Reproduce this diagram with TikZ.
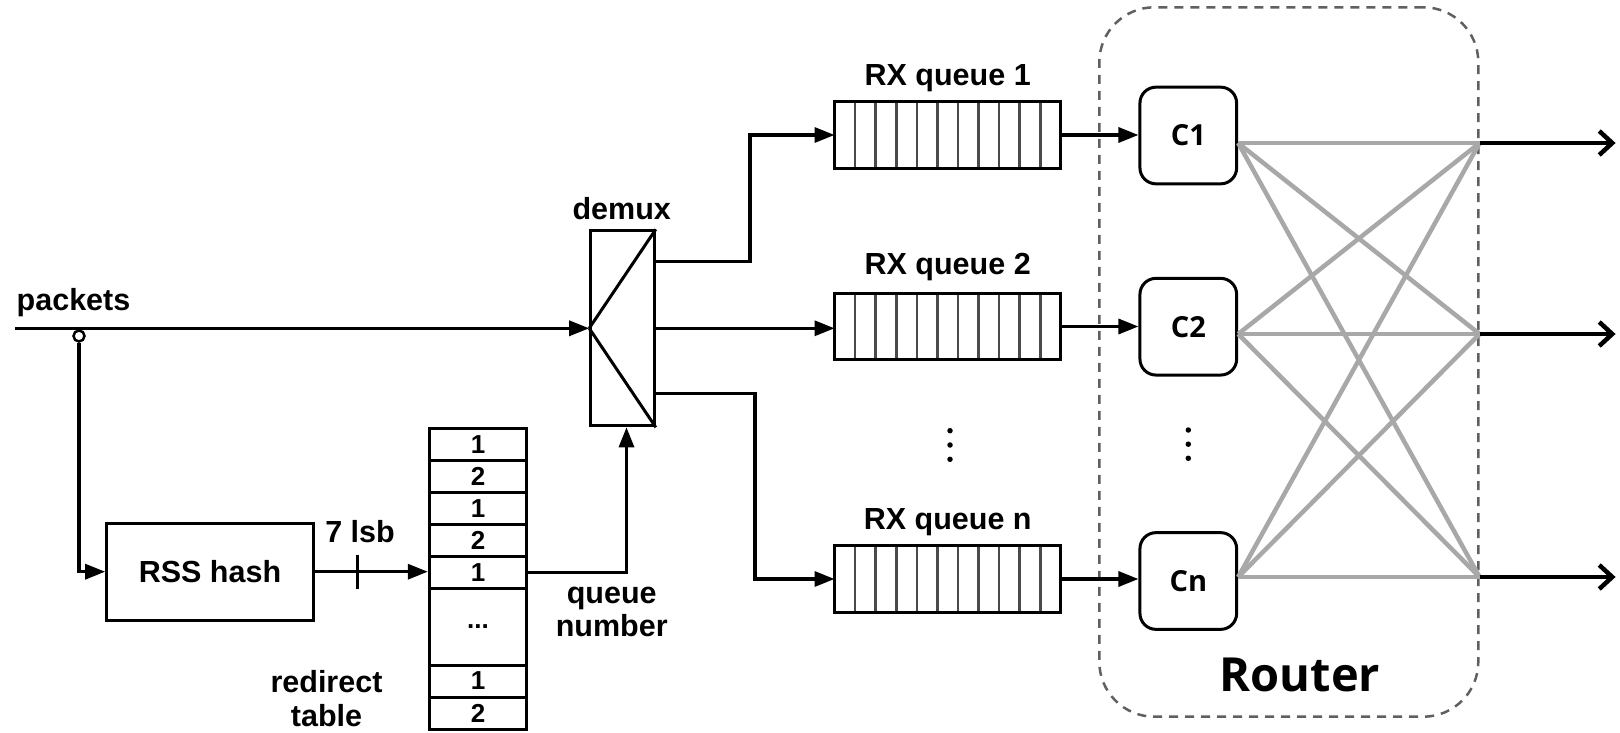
\documentclass[tikz,border=0pt]{standalone}
\usepackage{fontspec}
\setmainfont{Liberation Sans}
\newfontfamily\notofont{Open Sans}
\usetikzlibrary{arrows.meta,calc}
\definecolor{meshgray}{HTML}{A8A8A8}
\definecolor{dashgray}{HTML}{606060}
\definecolor{divgray}{HTML}{4A4A4A}
\begin{document}
\begin{tikzpicture}[x=1pt,y=-1pt,
  lbl/.style={font=\fontsize{30.5}{36}\selectfont\bfseries, inner sep=0pt},
  box/.style={draw, line width=3pt, inner sep=0pt},
  conn/.style={line width=3.2pt, -{Triangle[length=20pt,width=15pt]}},
  plain/.style={line width=3pt},
  cell/.style={draw, line width=3pt, minimum width=97.4pt, minimum height=32pt, inner sep=0pt, font=\fontsize{26}{28}\selectfont\bfseries},
  queuebox/.style={line width=3pt, minimum width=223.3pt, minimum height=63.3pt, inner sep=0pt},
  core/.style={draw, line width=3pt, rounded corners=16pt, minimum width=96.7pt, minimum height=96.7pt, inner sep=0pt, font=\notofont\fontsize{29}{32}\selectfont\bfseries},
  mesh/.style={line width=4.5pt, draw=meshgray},
  outarrow/.style={line width=4.5pt, -{Straight Barb[length=13pt,width=24pt]}},
  dotmark/.style={circle, fill, inner sep=0pt, minimum size=5.5pt},
  divider/.style={line width=2.5pt, draw=divgray}
]
\useasboundingbox (0,0) rectangle (1620,733);

% router dashed frame
\node[draw=dashgray, line width=2.5pt, dash pattern=on 9pt off 7pt, rounded corners=55pt,
      minimum width=379pt, minimum height=709.4pt, inner sep=0pt] (router) at (1288.8,362) {};
\node[font=\notofont\fontsize{47}{50}\selectfont\bfseries, anchor=base, inner sep=0pt] (routerlbl) at (1300,691) {Router};

% demux
\node[box, minimum width=63.6pt, minimum height=195pt] (demux) at (622.5,328.3) {};
\draw[plain] (demux.west) -- (demux.north east);
\draw[plain] (demux.west) -- (demux.south east);
\node[lbl, anchor=base] (demuxlbl) at (621.7,219.3) {demux};

% packets input
\node[lbl, anchor=base] (packetslbl) at (73.5,310.5) {packets};
\coordinate (pin) at (15,328.3);
\draw[conn] (pin) -- (demux.west);
\node[circle, draw, line width=2.5pt, fill=white, minimum size=11pt, inner sep=0pt] (tap) at (79,336) {};

% RSS hash
\node[box, lbl, minimum width=206.6pt, minimum height=96.7pt] (rss) at (210,571.7) {RSS hash};
\draw[conn] (tap.south) |- (rss.west);

% redirect table
\node[cell] (t1) at (478,444.3) {1};
\node[cell] (t2) at (478,476.3) {2};
\node[cell] (t3) at (478,508.3) {1};
\node[cell] (t4) at (478,540.3) {2};
\node[cell] (t5) at (478,572.3) {1};
\node[cell, minimum height=76.7pt] (t6) at (478,626.7) {...};
\node[cell] (t7) at (478,681) {1};
\node[cell] (t8) at (478,713) {2};
\node[lbl, anchor=base] (redir1) at (326.5,692) {redirect};
\node[lbl, anchor=base] (redir2) at (326.5,726) {table};

\draw[conn] (rss.east) -- node[pos=0.374, inner sep=0pt] (tk) {} (rss.east -| t5.west);
\draw[plain] ([yshift=17pt]tk.center) -- ([yshift=-17pt]tk.center);
\node[lbl, anchor=base] (lsb) at (360,542.7) {7 lsb};

\draw[conn] (t5.east) -| ([xshift=4pt]demux.south);
\node[lbl, anchor=base] (qn1) at (611.7,603) {queue};
\node[lbl, anchor=base] (qn2) at (611.7,636) {number};

% RX queues
\node[queuebox] (q1) at (947.7,135) {};
\node[queuebox] (q2) at (947.7,326.5) {};
\node[queuebox] (qn) at (947.7,579) {};
\foreach \q in {q1,q2,qn}{
  \foreach \i in {1,...,10}{
    \draw[divider] ($(\q.north west)!\i/11!(\q.north east)$) -- ($(\q.south west)!\i/11!(\q.south east)$);
  }
  \draw[line width=3pt] (\q.north west) rectangle (\q.south east);
}
\node[lbl, anchor=base] (q1lbl) at (947.7,86) {RX queue 1};
\node[lbl, anchor=base] (q2lbl) at (947.7,274.3) {RX queue 2};
\node[lbl, anchor=base] (qnlbl) at (947.7,529.3) {RX queue n};

\draw[conn] ([yshift=66.6pt]demux.east) -- ++(94.2,0) |- (q1.west);
\draw[conn] (demux.east) -- (demux.east -| q2.west);
\draw[conn] ([yshift=-65pt]demux.east) -- ++(99.2,0) |- (qn.west);

% cores
\node[core] (c1) at (1188.3,135.5) {C1};
\node[core] (c2) at (1188.3,326.7) {C2};
\node[core] (cn) at (1188.3,581) {Cn};
\draw[conn] (q1.east) -- (q1.east -| c1.west);
\draw[conn] (q2.east) -- (q2.east -| c2.west);
\draw[conn] (qn.east) -- (qn.east -| cn.west);

% dots
\node[dotmark] (d1) at (950,430.7) {};
\node[dotmark] (d2) at (950,445) {};
\node[dotmark] (d3) at (950,459.3) {};
\node[dotmark] (e1) at (1188.3,430) {};
\node[dotmark] (e2) at (1188.3,444.2) {};
\node[dotmark] (e3) at (1188.3,458.3) {};

% mesh
\coordinate (l1) at ([yshift=-7.5pt]c1.east);
\coordinate (l2) at ([yshift=-7.3pt]c2.east);
\coordinate (l3) at ([yshift=4pt]cn.east);
\coordinate (r1) at (router.east |- l1);
\coordinate (r2) at (router.east |- l2);
\coordinate (r3) at (router.east |- l3);
\foreach \a in {l1,l2,l3}{
  \foreach \b in {r1,r2,r3}{
    \draw[mesh] (\a) -- (\b);
  }
}
\draw[outarrow] (r1) -- ++(136,0);
\draw[outarrow] (r2) -- ++(136,0);
\draw[outarrow] (r3) -- ++(136,0);
\end{tikzpicture}
\end{document}
